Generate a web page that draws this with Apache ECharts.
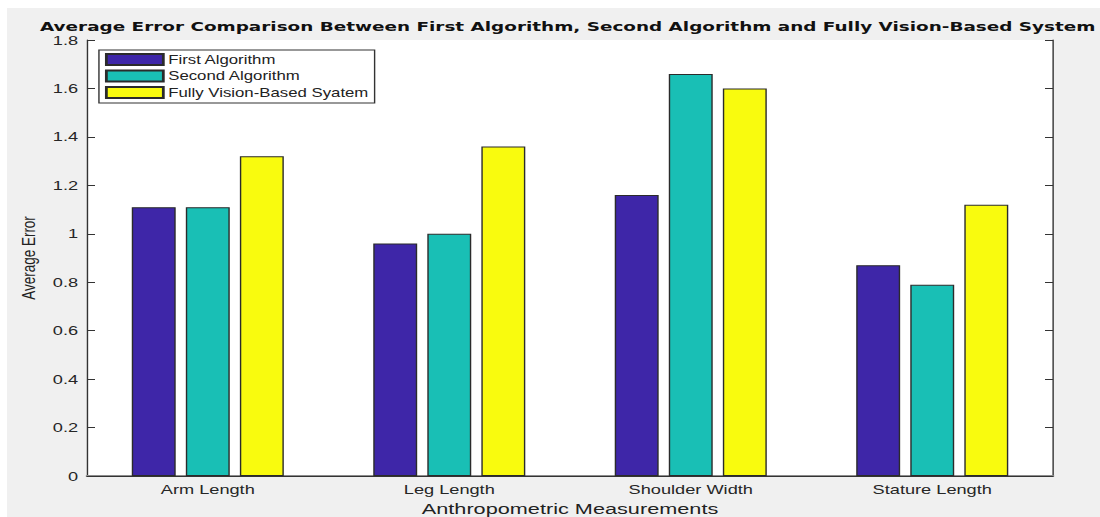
<!DOCTYPE html>
<html>
<head>
<meta charset="utf-8">
<script src="https://cdn.jsdelivr.net/npm/echarts@6/dist/echarts.min.js"></script>
<style>
  html, body { margin: 0; padding: 0; background: #fff; overflow: hidden; }
  /* the reference figure is stretched horizontally, so the chart is drawn
     narrower and widened back to 1100px */
  #chart { width: 786px; height: 517px; transform-origin: 0 0; transform: scaleX(1.3995); }
</style>
</head>
<body>
<div id="chart"></div>
<script>
var categories = ["Arm Length", "Leg Length", "Shoulder Width", "Stature Length"];
var firstAlgorithm = [1.11, 0.96, 1.16, 0.87];
var secondAlgorithm = [1.11, 1.00, 1.66, 0.79];
var visionSystem = [1.32, 1.36, 1.60, 1.12];
var yTicks = [0, 0.2, 0.4, 0.6, 0.8, 1, 1.2, 1.4, 1.6, 1.8];

var chartDom = document.getElementById("chart");
var myChart = echarts.init(chartDom, null, { renderer: "svg" });

var axisColor = "#333333";
var font = "'Liberation Sans', Arial, sans-serif";

function barSeries(name, data, color) {
  return {
    name: name,
    type: "bar",
    data: data,
    barWidth: 31.4,
    barGap: "23%",
    itemStyle: { color: color, borderColor: "#2b2b2b", borderWidth: 1 },
  };
}

var option = {
  animation: false,
  textStyle: { fontFamily: font },
  graphic: [
    {
      type: "rect",
      z: -10,
      shape: { x: 5, y: 8, width: 781, height: 509 },
      style: { fill: "#f0f0f0" },
    },
  ],
  title: {
    text: "Average Error Comparison Between First Algorithm, Second Algorithm and Fully Vision-Based System",
    left: 28.6,
    top: 20,
    padding: 0,
    textStyle: { fontFamily: "'DejaVu Sans', sans-serif", fontSize: 13.15, lineHeight: 12, fontWeight: "bold", color: "#111" },
  },
  legend: {
    orient: "vertical",
    left: 70.7,
    top: 50,
    padding: [3, 4.3, 4, 4.3],
    itemGap: 3.5,
    itemWidth: 40.7,
    itemHeight: 11,
    backgroundColor: "#fff",
    borderColor: "#333",
    borderWidth: 1,
    borderRadius: 0,
    icon: "rect",
    textStyle: { fontFamily: font, fontSize: 12, color: "#222", padding: [0, 0, 0, -1.5] },
  },
  grid: {
    left: 62.2,
    right: 33.6,
    top: 40,
    bottom: 41,
    outerBoundsMode: "none",
    show: true,
    backgroundColor: "#ffffff",
    borderWidth: 0,
  },
  xAxis: [
    {
      type: "category",
      data: categories,
      name: "Anthropometric Measurements",
      nameLocation: "middle",
      nameGap: 25,
      nameTextStyle: { fontFamily: font, fontSize: 15.5, color: "#222" },
      axisLine: { lineStyle: { color: "#8c8c8c", width: 2 } },
      axisTick: { inside: true, alignWithLabel: true, length: 8, lineStyle: { color: axisColor } },
      axisLabel: { fontFamily: font, fontSize: 13, color: "#262626", margin: 7 },
    },
    {
      type: "category",
      data: categories,
      position: "top",
      axisLine: { lineStyle: { color: axisColor } },
      axisTick: { inside: true, alignWithLabel: true, length: 8, lineStyle: { color: axisColor } },
      axisLabel: { show: false },
    },
  ],
  yAxis: [
    {
      type: "value",
      min: 0,
      max: 1.8,
      interval: 0.2,
      name: "Average Error",
      nameLocation: "middle",
      nameGap: 34.5,
      nameTextStyle: { fontFamily: font, fontSize: 13.5, color: "#222" },
      axisLine: { show: true, lineStyle: { color: axisColor } },
      axisTick: { show: true, inside: true, length: 5.7, lineStyle: { color: axisColor } },
      axisLabel: {
        fontFamily: font,
        fontSize: 13,
        lineHeight: 10,
        color: "#262626",
        margin: 6.4,
        formatter: function (v) {
          var t = yTicks.find(function (k) { return Math.abs(k - v) < 1e-9; });
          return t === undefined ? "" : String(t);
        },
      },
      splitLine: { show: false },
    },
    {
      type: "value",
      min: 0,
      max: 1.8,
      interval: 0.2,
      position: "right",
      axisLine: { show: true, lineStyle: { color: axisColor } },
      axisTick: { show: true, inside: true, length: 5.7, lineStyle: { color: axisColor } },
      axisLabel: { show: false },
      splitLine: { show: false },
    },
  ],
  series: [
    barSeries("First Algorithm", firstAlgorithm, "#3e26a8"),
    barSeries("Second Algorithm", secondAlgorithm, "#19bfb5"),
    barSeries("Fully Vision-Based Syatem", visionSystem, "#f9fb0e"),
  ],
};

myChart.setOption(option);
window.addEventListener("resize", myChart.resize);
</script>
</body>
</html>
